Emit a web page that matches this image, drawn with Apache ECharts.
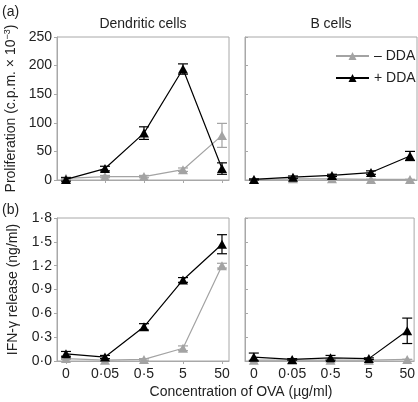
<!DOCTYPE html>
<html>
<head>
<meta charset="utf-8">
<script src="https://cdn.jsdelivr.net/npm/echarts@6/dist/echarts.min.js"></script>
<style>html,body{margin:0;padding:0;background:#fff;}#c{width:418px;height:402px;}</style>
</head>
<body>
<div id="c"></div>
<script>
const categories = ['0', '0·05', '0·5', '5', '50'];
const profTicks = [0, 50, 100, 150, 200, 250];
const ifnTicks = [0, 0.3, 0.6, 0.9, 1.2, 1.5, 1.8];

const profDcMinus = [3, 6, 6, 18, 78];
const profDcMinusErr = [2, 2, 2, 3, 21];
const profDcPlus = [1, 20, 82, 194, 20];
const profDcPlusErr = [3, 4, 11, 9, 10];
const profBMinus = [1, 2, 2, 1, 1];
const profBMinusErr = [0, 0, 0, 0, 0];
const profBPlus = [1, 5, 8, 13, 42];
const profBPlusErr = [1, 2, 2, 3, 8];

const ifnDcMinus = [0.03, 0.01, 0.02, 0.16, 1.2];
const ifnDcMinusErr = [0.01, 0, 0.01, 0.03, 0.03];
const ifnDcPlus = [0.09, 0.05, 0.43, 1.02, 1.47];
const ifnDcPlusErr = [0.03, 0.02, 0.04, 0.03, 0.12];
const ifnBMinus = [0.01, 0.01, 0.01, 0.01, 0.02];
const ifnBMinusErr = [0, 0, 0, 0, 0];
const ifnBPlus = [0.05, 0.02, 0.04, 0.03, 0.38];
const ifnBPlusErr = [0.05, 0.01, 0.03, 0.01, 0.16];

const GRAY = '#a3a3a3';
const BLACK = '#000000';
const AXIS = '#a8a8a8';
const FONT = 'Liberation Sans, Arial, sans-serif';

const chart = echarts.init(document.getElementById('c'), null, {renderer: 'canvas'});

const idx = categories.map((_, i) => i);
const grids = [
  {left: 57, top: 37, width: 172, height: 143},
  {left: 245, top: 37, width: 172, height: 143},
  {left: 57, top: 218, width: 172, height: 143},
  {left: 245, top: 218, width: 172, height: 143}
].map(g => Object.assign({show: true, borderColor: AXIS, borderWidth: 1, containLabel: false}, g));

const xAxes = [0, 1, 2, 3].map(i => ({
  type: 'value', gridIndex: i, min: -0.23, max: 4.18,
  splitLine: {show: false},
  axisLine: {show: true, onZero: false, lineStyle: {color: AXIS}},
  axisTick: {show: true, inside: false, length: 3, lineStyle: {color: AXIS}, customValues: idx},
  axisLabel: {show: i >= 2, customValues: idx, margin: 6, fontSize: 14, fontFamily: FONT, color: '#222',
    formatter: v => categories[Math.round(v)]}
}));

function yAxis(i, max, interval, ticks, fmt) {
  const left = (i % 2 === 0);
  return {
    type: 'value', gridIndex: i, min: 0, max: max, interval: interval,
    splitLine: {show: false},
    axisLine: {show: true, onZero: false, lineStyle: {color: AXIS}},
    axisTick: {show: true, inside: !left, length: 3, lineStyle: {color: AXIS}},
    axisLabel: {show: left, margin: 5, fontSize: 14, fontFamily: FONT, color: '#222', formatter: fmt}
  };
}
const fmtInt = v => String(v);
const fmtDec = v => v.toFixed(1).replace('.', '·');
const yAxes = [
  yAxis(0, 250, 50, profTicks, fmtInt),
  yAxis(1, 250, 50, profTicks, fmtInt),
  yAxis(2, 1.8, 0.3, ifnTicks, fmtDec),
  yAxis(3, 1.8, 0.3, ifnTicks, fmtDec)
];
yAxes[0].name = '{a|Proliferation (c.p.m. × 10}{s|−3}{a|)}';
yAxes[0].nameLocation = 'middle';
yAxes[0].nameGap = 37;
yAxes[0].nameTextStyle = {rich: {a: {fontSize: 14, fontFamily: FONT, color: '#222'}, s: {fontSize: 9, fontFamily: FONT, color: '#222', verticalAlign: 'top', padding: [0, 0, 8, 0]}}};
yAxes[2].name = 'IFN-γ release (ng/ml)';
yAxes[2].nameLocation = 'middle';
yAxes[2].nameGap = 37;
yAxes[2].nameTextStyle = {fontSize: 14, fontFamily: FONT, color: '#222'};

function errSeries(gi, means, errs, color) {
  return {
    type: 'custom', xAxisIndex: gi, yAxisIndex: gi, silent: true, z: color === BLACK ? 4 : 2,
    data: means.map((m, i) => [i, m - errs[i], m + errs[i]]),
    renderItem: function (params, api) {
      const x = api.value(0);
      const lo = api.coord([x, api.value(1)]);
      const hi = api.coord([x, api.value(2)]);
      const w = 5;
      const st = {stroke: color, lineWidth: 1.2};
      return {type: 'group', children: [
        {type: 'line', shape: {x1: lo[0], y1: lo[1], x2: hi[0], y2: hi[1]}, style: st},
        {type: 'line', shape: {x1: lo[0] - w, y1: lo[1], x2: lo[0] + w, y2: lo[1]}, style: st},
        {type: 'line', shape: {x1: hi[0] - w, y1: hi[1], x2: hi[0] + w, y2: hi[1]}, style: st}
      ]};
    }
  };
}
function lineSeries(gi, name, means, color) {
  return {
    type: 'line', name: name, xAxisIndex: gi, yAxisIndex: gi,
    data: means.map((m, i) => [i, m]),
    symbol: 'triangle', symbolSize: [10, 9], showSymbol: true,
    lineStyle: {color: color, width: 1.2},
    itemStyle: {color: color},
    z: color === BLACK ? 5 : 3,
    clip: false, animation: false
  };
}

const M = '– DDA', P = '+ DDA';
const series = [
  errSeries(0, profDcMinus, profDcMinusErr, GRAY), lineSeries(0, M, profDcMinus, GRAY),
  errSeries(0, profDcPlus, profDcPlusErr, BLACK), lineSeries(0, P, profDcPlus, BLACK),
  errSeries(1, profBMinus, profBMinusErr, GRAY), lineSeries(1, M, profBMinus, GRAY),
  errSeries(1, profBPlus, profBPlusErr, BLACK), lineSeries(1, P, profBPlus, BLACK),
  errSeries(2, ifnDcMinus, ifnDcMinusErr, GRAY), lineSeries(2, M, ifnDcMinus, GRAY),
  errSeries(2, ifnDcPlus, ifnDcPlusErr, BLACK), lineSeries(2, P, ifnDcPlus, BLACK),
  errSeries(3, ifnBMinus, ifnBMinusErr, GRAY), lineSeries(3, M, ifnBMinus, GRAY),
  errSeries(3, ifnBPlus, ifnBPlusErr, BLACK), lineSeries(3, P, ifnBPlus, BLACK)
];

function txt(x, y, text, align) {
  return {type: 'text', x: x, y: y, silent: true,
    style: {text: text, fontSize: 14, fontFamily: FONT, fill: '#222', align: align || 'center', verticalAlign: 'middle'}};
}

chart.setOption({
  animation: false,
  backgroundColor: '#fff',
  grid: grids,
  xAxis: xAxes,
  yAxis: yAxes,
  legend: {
    show: true, orient: 'vertical', left: 330, top: 44,
    itemWidth: 33, itemHeight: 10, itemGap: 8,
    data: [M, P],
    textStyle: {fontSize: 14, fontFamily: FONT, color: '#222'},
    selectedMode: false
  },
  graphic: [
    txt(2, 12, '(a)', 'left'),
    txt(2, 210, '(b)', 'left'),
    txt(143, 24, 'Dendritic cells'),
    txt(331, 24, 'B cells'),
    txt(241, 392, 'Concentration of OVA (µg/ml)')
  ],
  series: series
});
</script>
</body>
</html>
